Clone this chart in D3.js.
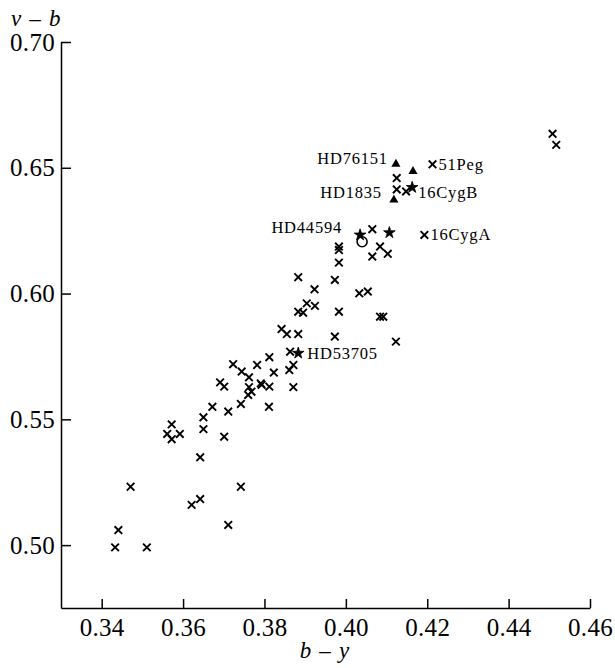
<!DOCTYPE html>
<html>
<head>
<meta charset="utf-8">
<script src="https://cdn.jsdelivr.net/npm/d3@7"></script>
<style>
  html, body { margin: 0; padding: 0; background: #fff; }
  svg { display: block; }
  text { font-family: "Liberation Serif", "Times New Roman", serif; fill: #000; }
</style>
</head>
<body>
<svg id="chart" width="615" height="668"></svg>
<script>
// Stars of the sample: b-y colour index and v-b colour index
const fieldBy = [
  0.4508, 0.4517, 0.4213, 0.4125, 0.4125, 0.4148, 0.4065, 0.4193, 0.4084, 0.4065,
  0.4103, 0.3983, 0.3983, 0.3983, 0.3883, 0.3973, 0.3923, 0.4033, 0.4054, 0.3904,
  0.3924, 0.3883, 0.3895, 0.3983, 0.4084, 0.4092, 0.3842, 0.3855, 0.3883, 0.3973,
  0.4123, 0.3863, 0.3812, 0.3782, 0.3871, 0.3823, 0.3861, 0.3793, 0.3812, 0.3871,
  0.3723, 0.3744, 0.3762, 0.3691, 0.3701, 0.3762, 0.3791, 0.3768, 0.3760, 0.3742,
  0.3672, 0.3711, 0.3811, 0.3650, 0.3650, 0.3701, 0.3572, 0.3561, 0.3572, 0.3592,
  0.3642, 0.3742, 0.3642, 0.3621, 0.3711, 0.3471, 0.3441, 0.3433, 0.3511
];
const fieldVb = [
  0.6635, 0.6591, 0.6514, 0.6459, 0.6414, 0.6406, 0.6256, 0.6233, 0.6187, 0.6147,
  0.6158, 0.6187, 0.6173, 0.6123, 0.6065, 0.6054, 0.6017, 0.6001, 0.6008, 0.5961,
  0.5951, 0.5928, 0.5924, 0.5928, 0.5908, 0.5908, 0.5859, 0.5839, 0.5839, 0.5829,
  0.5809, 0.5769, 0.5747, 0.5716, 0.5716, 0.5686, 0.5696, 0.5637, 0.5630, 0.5628,
  0.5719, 0.5690, 0.5667, 0.5647, 0.5630, 0.5628, 0.5643, 0.5610, 0.5597, 0.5561,
  0.5550, 0.5531, 0.5550, 0.5508, 0.5461, 0.5431, 0.5480, 0.5442, 0.5421, 0.5442,
  0.5349, 0.5232, 0.5183, 0.5160, 0.5080, 0.5232, 0.5060, 0.4991, 0.4991
];
// Planet-host stars
const hostBy = [0.4035, 0.4107, 0.4163, 0.3883];
const hostVb = [0.6233, 0.6242, 0.6422, 0.5763];
// Triangles
const triBy = [0.4123, 0.4165, 0.4118];
const triVb = [0.6515, 0.6486, 0.6372];
// Open circle
const circBy = [0.4040];
const circVb = [0.6206];

// Named stars: which group and index each name belongs to
const labelNames  = ["HD76151", "51Peg", "HD1835", "16CygB", "HD44594", "16CygA", "HD53705"];
const labelGroups = ["tri", "field", "tri", "host", "host", "field", "host"];
const labelIndex  = [0, 2, 2, 2, 0, 7, 3];

const xTicks = [0.34, 0.36, 0.38, 0.40, 0.42, 0.44, 0.46];
const yTicks = [0.50, 0.55, 0.60, 0.65, 0.70];
const xTitle = "b – y";
const yTitle = "v – b";

const svg = d3.select("#chart");
const x = d3.scaleLinear().domain([0.33, 0.46]).range([61, 590]);
const y = d3.scaleLinear().domain([0.475, 0.70]).range([608, 42]);

// Axes with inward ticks
const xAxis = d3.axisBottom(x).tickValues(xTicks).tickFormat(d3.format(".2f"))
  .tickSizeInner(-9).tickSizeOuter(0).tickPadding(10);
const yAxis = d3.axisLeft(y).tickValues(yTicks).tickFormat(d3.format(".2f"))
  .tickSizeInner(-10).tickSizeOuter(0).tickPadding(6);

const gx = svg.append("g").attr("transform", "translate(0,608)").call(xAxis);
const gy = svg.append("g").attr("transform", "translate(61,0)").call(yAxis);
[gx, gy].forEach(g => {
  g.select(".domain").attr("stroke", "#000").attr("stroke-width", 1.5);
  g.selectAll(".tick line").attr("stroke", "#000").attr("stroke-width", 1.5);
  g.selectAll(".tick text")
    .style("font-family", '"Liberation Serif", serif')
    .style("font-size", "25px").style("letter-spacing", "0.3px").attr("fill", "#000");
});
gx.selectAll(".tick text").attr("dy", "0.71em");

// Axis titles
svg.append("text").attr("x", 325).attr("y", 658).attr("text-anchor", "middle")
  .style("font-size", "23px").style("font-style", "italic").style("letter-spacing", "1.2px")
  .text(xTitle);
svg.append("text").attr("x", 11).attr("y", 26)
  .style("font-size", "23px").style("font-style", "italic").style("letter-spacing", "1.2px")
  .text(yTitle);

const plot = svg.append("g");

// Cross markers
const crossPath = "M-3.8,-3.8L3.8,3.8M-3.8,3.8L3.8,-3.8";
plot.selectAll("path.field").data(d3.range(fieldBy.length)).join("path")
  .attr("class", "field")
  .attr("transform", i => `translate(${x(fieldBy[i])},${y(fieldVb[i])})`)
  .attr("d", crossPath).attr("stroke", "#000").attr("stroke-width", 1.9).attr("fill", "none");

// Filled triangles
plot.selectAll("path.tri").data(d3.range(triBy.length)).join("path")
  .attr("class", "tri")
  .attr("transform", i => `translate(${x(triBy[i])},${y(triVb[i])})`)
  .attr("d", d3.symbol(d3.symbolTriangle, 36)()).attr("fill", "#000");

// Filled stars
plot.selectAll("path.host").data(d3.range(hostBy.length)).join("path")
  .attr("class", "host")
  .attr("transform", i => `translate(${x(hostBy[i])},${y(hostVb[i])})`)
  .attr("d", d3.symbol(d3.symbolStar, 42)()).attr("fill", "#000")
  .attr("stroke", "#000").attr("stroke-width", 0.8);

// Open circle
plot.selectAll("circle.sun").data(d3.range(circBy.length)).join("circle")
  .attr("class", "sun")
  .attr("cx", i => x(circBy[i])).attr("cy", i => y(circVb[i])).attr("r", 5)
  .attr("fill", "none").attr("stroke", "#000").attr("stroke-width", 1.6);

// Star names next to their markers
const groups = {
  field: [fieldBy, fieldVb], host: [hostBy, hostVb], tri: [triBy, triVb]
};
const placement = {
  "HD76151": { dx: -8,  dy: 0,    anchor: "end" },
  "51Peg":   { dx: 6,   dy: 6,    anchor: "start" },
  "HD1835":  { dx: -12, dy: -2,   anchor: "end" },
  "16CygB":  { dx: 6,   dy: 10.5, anchor: "start" },
  "HD44594": { dx: -18, dy: -2,   anchor: "end" },
  "16CygA":  { dx: 6,   dy: 5,    anchor: "start" },
  "HD53705": { dx: 9,   dy: 6,    anchor: "start" }
};
labelNames.forEach((name, k) => {
  const [bx, vb] = groups[labelGroups[k]];
  const i = labelIndex[k];
  const p = placement[name];
  plot.append("text")
    .attr("x", x(bx[i]) + p.dx).attr("y", y(vb[i]) + p.dy)
    .attr("text-anchor", p.anchor)
    .style("font-size", "16.5px").style("letter-spacing", "0.8px")
    .text(name);
});
</script>
</body>
</html>
